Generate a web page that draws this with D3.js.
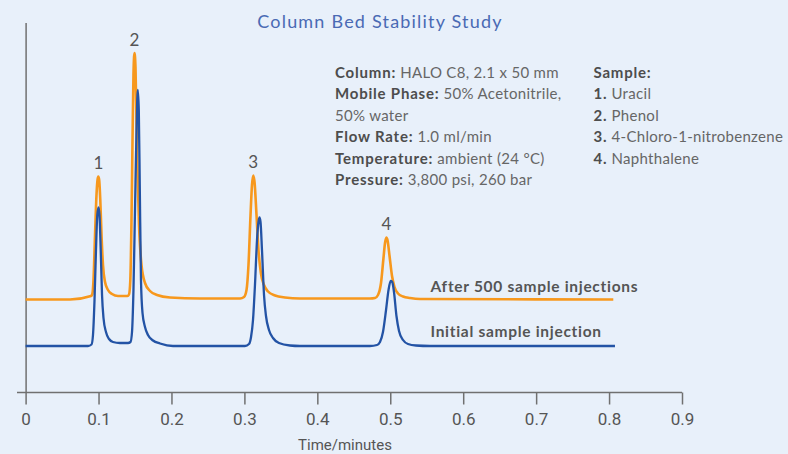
<!DOCTYPE html>
<html>
<head>
<meta charset="utf-8">
<script src="https://cdn.jsdelivr.net/npm/d3@7"></script>
<style>
  html, body { margin: 0; padding: 0; background: #e8f0fa; }
  svg { display: block; }
  .tick text { font-family: Roboto, "DejaVu Sans", sans-serif; }
</style>
</head>
<body>
<div id="chart"></div>
<script>
// chromatogram traces, time in minutes / detector signal (mAU)
var timeInitial = [0, 0.0856, 0.0904, 0.0924, 0.0945, 0.0965, 0.0983, 0.1000, 0.1013, 0.1030, 0.1048, 0.1068, 0.1102, 0.1144, 0.1198, 0.1294, 0.1404,
  0.1438, 0.1459, 0.1479, 0.1500, 0.1521, 0.1538, 0.1552, 0.1566, 0.1582, 0.1603, 0.1637, 0.1678, 0.1747, 0.1843, 0.2021, 0.3008,
  0.3063, 0.3091, 0.3118, 0.3145, 0.3173, 0.3193, 0.3207, 0.3221, 0.3241, 0.3269, 0.3296, 0.3337, 0.3392, 0.3474, 0.3625, 0.3762, 0.4722,
  0.4818, 0.4859, 0.4900, 0.4942, 0.4976, 0.5006, 0.5027, 0.5051, 0.5085, 0.5120, 0.5175, 0.5243, 0.5353, 0.5545, 0.8081];
var signalInitial = [46.5, 46.5, 48, 57.5, 92.5, 142.5, 177.5, 185, 177.5, 142.5, 97.5, 74.5, 60.5, 53.5, 50.5, 49.5, 49.5,
  50.5, 60.5, 102.5, 182.5, 262.5, 302.5, 282.5, 202.5, 112.5, 79.5, 65.5, 57.5, 52, 49, 46.5, 46.5,
  48.5, 55.5, 72.5, 107.5, 152.5, 170.5, 175, 170.5, 142.5, 97.5, 76.5, 62.5, 54.5, 49.5, 47, 46.5, 46.5,
  47.5, 50.5, 60.5, 82.5, 102.5, 111.5, 110.5, 100.5, 76.5, 61.5, 52.5, 48.5, 47, 46.5, 46.5];

var timeAfter = [0, 0.0609, 0.0897, 0.0915, 0.0931, 0.0952, 0.0972, 0.0986, 0.0997, 0.1009, 0.1024, 0.1041, 0.1061, 0.1089, 0.1130, 0.1185, 0.1267, 0.1397,
  0.1418, 0.1436, 0.1452, 0.1466, 0.1479, 0.1493, 0.1507, 0.1527, 0.1555, 0.1589, 0.1637, 0.1706, 0.1802, 0.1980, 0.2391, 0.2940,
  0.2995, 0.3029, 0.3056, 0.3084, 0.3104, 0.3122, 0.3140, 0.3166, 0.3193, 0.3228, 0.3269, 0.3324, 0.3420, 0.3557, 0.3762, 0.4722,
  0.4791, 0.4832, 0.4873, 0.4907, 0.4928, 0.4946, 0.4962, 0.4990, 0.5024, 0.5058, 0.5106, 0.5175, 0.5271, 0.5408, 0.8058];
var signalAfter = [93, 93, 96.5, 98.5, 112.5, 157.5, 197.5, 212.5, 216, 212.5, 192.5, 157.5, 127.5, 110.5, 102.5, 98.5, 96.5, 96.5,
  98, 112.5, 172.5, 252.5, 317.5, 339.5, 324.5, 242.5, 167.5, 127.5, 109.5, 101.5, 97.5, 95, 94, 94,
  95.5, 102.5, 127.5, 177.5, 207.5, 217, 209.5, 177.5, 142.5, 118.5, 107.5, 101, 97, 95, 94, 94,
  94.5, 97.5, 109.5, 134.5, 149.5, 155, 152.5, 136.5, 116.5, 105.5, 99, 96, 94.5, 93.5, 93];

var peakLabels = ['1', '2', '3', '4'];
var peakTimes = [0.0997, 0.1493, 0.3122, 0.4946];

var xTicks = [0, 0.1, 0.2, 0.3, 0.4, 0.5, 0.6, 0.7, 0.8, 0.9];

var conditions = [
  ['Column:', ' HALO C8, 2.1 x 50 mm'],
  ['Mobile Phase:', ' 50% Acetonitrile,'],
  ['', '50% water'],
  ['Flow Rate:', ' 1.0 ml/min'],
  ['Temperature:', ' ambient (24 °C)'],
  ['Pressure:', ' 3,800 psi, 260 bar']
];
var samples = [
  ['Sample:', ''],
  ['1.', ' Uracil'],
  ['2.', ' Phenol'],
  ['3.', ' 4-Chloro-1-nitrobenzene'],
  ['4.', ' Naphthalene']
];

var width = 788,
  height = 454;

var svg = d3
  .select('#chart')
  .append('svg')
  .attr('width', width)
  .attr('height', height);

svg.append('rect').attr('width', width).attr('height', height).attr('fill', '#e8f0fa');

var x = d3.scaleLinear().domain([0, 0.9]).range([25.6, 682]);
var y = d3.scaleLinear().domain([0, 370]).range([392.5, 22.5]);

// title
svg
  .append('text')
  .attr('x', 380)
  .attr('y', 28)
  .attr('text-anchor', 'middle')
  .style('font-family', 'Lato, sans-serif')
  .style('font-size', '18px')
  .style('letter-spacing', '1.2px')
  .style('fill', '#4a6ab4')
  .text('Column Bed Stability Study');

// axes
var xAxis = d3
  .axisBottom(x)
  .tickValues(xTicks)
  .tickFormat(function (d) { return d; })
  .tickSize(12)
  .tickSizeOuter(0)
  .tickPadding(8);

var gx = svg.append('g').attr('transform', 'translate(0,' + y(0) + ')').call(xAxis);
gx.select('.domain').attr('d', 'M17,0H' + x(0.9));
gx.selectAll('line, path').attr('stroke', '#707070').attr('stroke-width', 1.5);
gx.selectAll('text').style('font-size', '17px').style('fill', '#555');

var gy = svg
  .append('g')
  .attr('transform', 'translate(' + x(0) + ',0)')
  .call(d3.axisLeft(y).ticks(0).tickSizeOuter(0));
gy.select('.domain').attr('stroke', '#707070').attr('stroke-width', 1.5);

svg
  .append('text')
  .attr('x', 345)
  .attr('y', 450)
  .attr('text-anchor', 'middle')
  .style('font-family', 'Roboto, sans-serif')
  .style('font-size', '15px')
  .style('fill', '#555')
  .text('Time/minutes');

// traces
var line = d3
  .line()
  .x(function (d) { return x(d[0]); })
  .y(function (d) { return y(d[1]); })
  .curve(d3.curveMonotoneX);

var initial = timeInitial.map(function (t, i) { return [t, signalInitial[i]]; });
var after = timeAfter.map(function (t, i) { return [t, signalAfter[i]]; });

svg
  .append('path')
  .datum(after)
  .attr('d', line)
  .attr('fill', 'none')
  .attr('stroke', '#f7981d')
  .attr('stroke-width', 2.6)
  .attr('stroke-linejoin', 'round');

svg
  .append('path')
  .datum(initial)
  .attr('d', line)
  .attr('fill', 'none')
  .attr('stroke', '#2353a5')
  .attr('stroke-width', 2.3)
  .attr('stroke-linejoin', 'round');

// peak numbers above the orange trace
svg
  .selectAll('.peak-label')
  .data(peakLabels)
  .enter()
  .append('text')
  .attr('class', 'peak-label')
  .attr('x', function (d, i) { return x(peakTimes[i]); })
  .attr('y', function (d, i) {
    var j = d3.minIndex(timeAfter, function (t) { return Math.abs(t - peakTimes[i]); });
    return y(signalAfter[j]) - 7.5;
  })
  .attr('text-anchor', 'middle')
  .style('font-family', 'Lato, sans-serif')
  .style('font-size', '17px')
  .style('fill', '#555')
  .text(function (d) { return d; });

// trace labels
var traceLabels = svg
  .append('g')
  .style('font-family', 'Lato, sans-serif')
  .style('font-size', '15.5px')
  .style('font-weight', 'bold')
  .style('letter-spacing', '0.7px')
  .style('fill', '#555');
traceLabels.append('text').attr('x', 430.5).attr('y', 291.5).text('After 500 sample injections');
traceLabels.append('text').attr('x', 430.5).attr('y', 337).text('Initial sample injection');

// info blocks
function infoBlock(rows, x0, y0) {
  var t = svg
    .append('g')
    .selectAll('text')
    .data(rows)
    .enter()
    .append('text')
    .attr('x', x0)
    .attr('y', function (d, i) { return y0 + i * 21.5; })
    .style('font-family', 'Lato, sans-serif')
    .style('font-size', '15px');
  t.append('tspan').style('font-weight', 'bold').style('letter-spacing', '0.8px').style('fill', '#4d4d4d').text(function (d) { return d[0]; });
  t.append('tspan').style('letter-spacing', '0.3px').style('fill', '#666').text(function (d) { return d[1]; });
}
infoBlock(conditions, 335, 77.5);
infoBlock(samples, 593.5, 77.5);
</script>
</body>
</html>
